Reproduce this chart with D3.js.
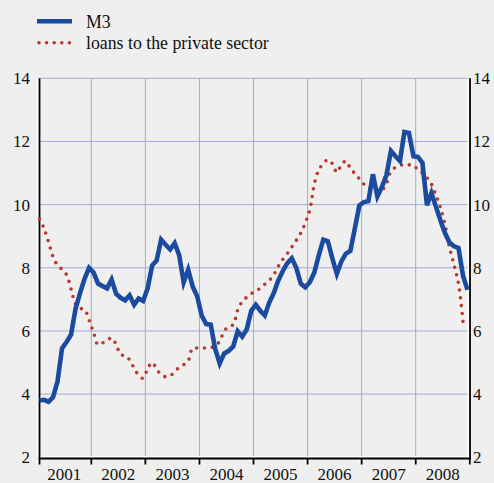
<!DOCTYPE html>
<html>
<head>
<meta charset="utf-8">
<script src="https://cdn.jsdelivr.net/npm/d3@7"></script>
<style>
  html, body { margin: 0; padding: 0; background: #efefef; }
  svg { display: block; }
  svg text { font-family: "Liberation Serif", "DejaVu Serif", serif; }
</style>
</head>
<body>
<div class="chart"></div>
<script>
// chart data, monthly annual growth rates (%) from Jan 2001
var years = ["2001","2002","2003","2004","2005","2006","2007","2008"];
var yTicks = [2, 4, 6, 8, 10, 12, 14];

var m3 = [
  3.8, 3.82, 3.76, 3.9, 4.4, 5.45, 5.65, 5.88, 6.7, 7.2, 7.65, 8.0,
  7.85, 7.5, 7.42, 7.35, 7.63, 7.18, 7.05, 6.97, 7.13, 6.83, 7.03, 6.95,
  7.35, 8.07, 8.23, 8.89, 8.73, 8.58, 8.78, 8.4, 7.54, 7.94, 7.41, 7.1,
  6.49, 6.22, 6.2, 5.43, 4.97, 5.29, 5.37, 5.51, 5.99, 5.82, 6.05, 6.64,
  6.83, 6.64, 6.49, 6.9, 7.2, 7.6, 7.9, 8.15, 8.3, 8.0, 7.5, 7.38,
  7.54, 7.85, 8.4, 8.89, 8.84, 8.3, 7.81, 8.2, 8.45, 8.53, 9.25, 9.98,
  10.08, 10.11, 10.96, 10.26, 10.56, 10.93, 11.7, 11.53, 11.38, 12.3, 12.27, 11.53,
  11.51, 11.32, 9.98, 10.37, 9.93, 9.5, 9.1, 8.8, 8.68, 8.63, 7.75, 7.3
];

var loans = [
  9.55, 9.25, 8.82, 8.35, 8.08, 7.95, 7.78, 7.33, 6.85, 6.72, 6.68, 6.35,
  5.95, 5.56, 5.62, 5.7, 5.78, 5.58, 5.25, 5.22, 5.08, 4.82, 4.6, 4.5,
  4.8, 5.0, 4.8, 4.61, 4.55, 4.58, 4.7, 4.85, 4.93, 5.05, 5.46, 5.46,
  5.46, 5.46, 5.48, 5.52, 5.68, 6.0, 6.14, 6.2, 6.67, 6.93, 7.07, 7.18,
  7.27, 7.35, 7.48, 7.6, 7.78, 8.05, 8.27, 8.45, 8.66, 8.87, 9.1, 9.42,
  9.83, 10.65, 11.1, 11.3, 11.42, 11.3, 11.02, 11.25, 11.38, 11.15, 10.98, 10.82,
  10.65, 10.54, 10.43, 10.43, 10.45, 10.67, 11.05, 11.18, 11.24, 11.27, 11.26, 11.25,
  11.1, 11.0, 10.85, 10.65, 10.3, 9.9, 9.37, 8.65, 8.1, 7.5, 6.3
];

var seriesNames = ["M3", "loans to the private sector"];

var width = 494, height = 483;
var left = 39.5, right = 470;
var font = "Liberation Serif, DejaVu Serif, serif";

var blue = "#1b4b9f", red = "#b7382f", gridColor = "#a3abd8";

// month index -> x, year boundaries sit half a month before January
var xScale = d3.scaleLinear().domain([0, 95]).range([39.5, 467.5]);
var yScale = d3.scaleLinear().domain([2, 14]).range([457.3, 78.3]);

var svg = d3.select("div.chart").append("svg")
    .attr("width", width)
    .attr("height", height);

svg.append("rect").attr("width", width).attr("height", height).attr("fill", "#efefef");

function boundary(k){
  return Math.max(left, Math.min(right, xScale(12 * k - 0.5)));
}

// grid
var grid = svg.append("g").attr("stroke", gridColor).attr("stroke-width", 1);
grid.selectAll(".hgrid").data(yTicks.slice(1)).enter().append("line")
    .attr("x1", left).attr("x2", right)
    .attr("y1", function(d){ return yScale(d); })
    .attr("y2", function(d){ return yScale(d); });
grid.selectAll(".vgrid").data(d3.range(1, years.length)).enter().append("line")
    .attr("x1", function(k){ return boundary(k); })
    .attr("x2", function(k){ return boundary(k); })
    .attr("y1", yScale(14)).attr("y2", yScale(2));

// axes lines with the little white shadow
var axisY = yScale(2) + 1.2;
var ax = svg.append("g");
ax.append("line").attr("x1", left - 1.7).attr("x2", left - 1.7).attr("y1", yScale(14)).attr("y2", axisY - 1.7)
    .attr("stroke", "#fff").attr("stroke-width", 1.5);
ax.append("line").attr("x1", right - 1.7).attr("x2", right - 1.7).attr("y1", yScale(14)).attr("y2", axisY - 1.7)
    .attr("stroke", "#fff").attr("stroke-width", 1.5);
ax.append("line").attr("x1", left - 2.5).attr("x2", right + 1).attr("y1", axisY - 1.7).attr("y2", axisY - 1.7)
    .attr("stroke", "#fff").attr("stroke-width", 1.5);
ax.selectAll(".tickw").data(d3.range(0, years.length + 1)).enter().append("line")
    .attr("x1", function(k){ return boundary(k) - 1.7; })
    .attr("x2", function(k){ return boundary(k) - 1.7; })
    .attr("y1", axisY - 1.7).attr("y2", axisY + 5)
    .attr("stroke", "#fff").attr("stroke-width", 1.5);

ax.append("line").attr("x1", left).attr("x2", left).attr("y1", yScale(14)).attr("y2", axisY)
    .attr("stroke", "#000").attr("stroke-width", 1.8);
ax.append("line").attr("x1", right).attr("x2", right).attr("y1", yScale(14)).attr("y2", axisY)
    .attr("stroke", "#000").attr("stroke-width", 1.8);
ax.append("line").attr("x1", left - 1).attr("x2", right + 1).attr("y1", axisY).attr("y2", axisY)
    .attr("stroke", "#000").attr("stroke-width", 1.8);
ax.selectAll(".tick").data(d3.range(0, years.length + 1)).enter().append("line")
    .attr("x1", function(k){ return boundary(k); })
    .attr("x2", function(k){ return boundary(k); })
    .attr("y1", axisY).attr("y2", axisY + 6)
    .attr("stroke", "#000").attr("stroke-width", 1.8);

// tick labels
svg.selectAll(".ylabL").data(yTicks).enter().append("text")
    .attr("x", 30).attr("y", function(d){ return yScale(d) + 6; })
    .attr("text-anchor", "end").attr("font-size", 17).attr("font-family", font).attr("fill", "#111")
    .text(function(d){ return d; });
svg.selectAll(".ylabR").data(yTicks).enter().append("text")
    .attr("x", 473).attr("y", function(d){ return yScale(d) + 6; })
    .attr("text-anchor", "start").attr("font-size", 17).attr("font-family", font).attr("fill", "#111")
    .text(function(d){ return d; });
svg.selectAll(".xlab").data(years).enter().append("text")
    .attr("x", function(d, k){ return xScale(12 * k + 5.5); })
    .attr("y", 479.5)
    .attr("text-anchor", "middle").attr("font-size", 17).attr("font-family", font).attr("fill", "#111")
    .text(function(d){ return d; });

// series
var line = d3.line()
    .x(function(d, i){ return xScale(i); })
    .y(function(d){ return yScale(d); });

svg.append("path").datum(loans)
    .attr("d", line.curve(d3.curveCatmullRom.alpha(0.5)))
    .attr("fill", "none").attr("stroke", red)
    .attr("stroke-width", 3.6).attr("stroke-linecap", "round")
    .attr("stroke-dasharray", "0,7.8");

svg.append("path").datum(m3)
    .attr("d", line.curve(d3.curveLinear))
    .attr("fill", "none").attr("stroke", blue)
    .attr("stroke-width", 4.6).attr("stroke-linejoin", "miter");

// legend
var legend = svg.append("g");
legend.append("line").attr("x1", 37).attr("x2", 72).attr("y1", 21.3).attr("y2", 21.3)
    .attr("stroke", blue).attr("stroke-width", 4.5);
legend.append("line").attr("x1", 39).attr("x2", 72).attr("y1", 42.8).attr("y2", 42.8)
    .attr("stroke", red).attr("stroke-width", 3.6).attr("stroke-linecap", "round")
    .attr("stroke-dasharray", "0,7.6");
legend.selectAll(".ltext").data(seriesNames).enter().append("text")
    .attr("x", 86).attr("y", function(d, i){ return i == 0 ? 27.5 : 48.5; })
    .attr("font-size", 17.8).attr("font-family", font).attr("fill", "#111")
    .text(function(d){ return d; });
</script>
</body>
</html>
